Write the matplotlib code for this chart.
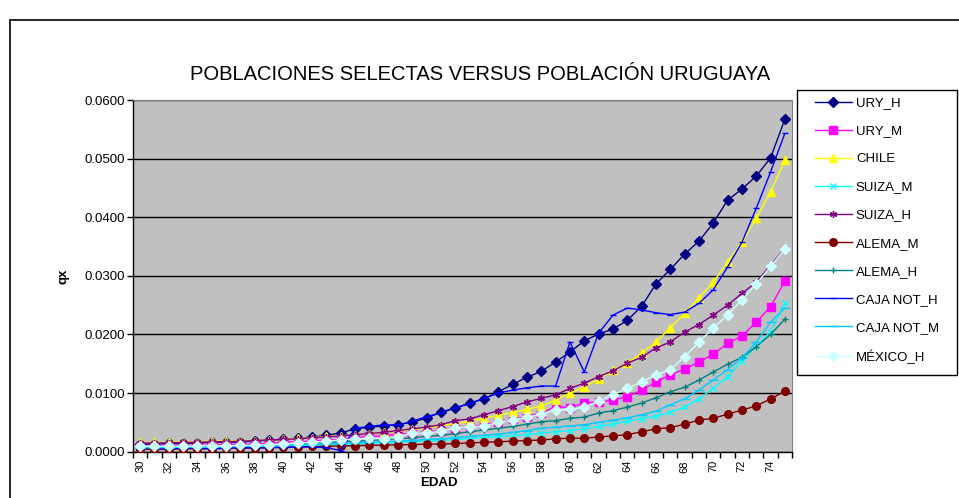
import numpy as np
import matplotlib

matplotlib.use("Agg")
import matplotlib.pyplot as plt
from matplotlib.lines import Line2D
from matplotlib.patches import Rectangle
from matplotlib.ticker import FixedLocator, FuncFormatter

plt.rcParams["font.family"] = ["Liberation Sans", "DejaVu Sans"]

# edades 30..75
edades = list(range(30, 76))

ury_h = [0.0013, 0.0013, 0.0014, 0.0014, 0.0015, 0.0016, 0.0016, 0.0017, 0.0018, 0.0020,
         0.0021, 0.0023, 0.0025, 0.0028, 0.0032, 0.0039, 0.0042, 0.0044, 0.0046, 0.0051,
         0.0057, 0.0068, 0.0074, 0.0083, 0.0090, 0.0102, 0.0115, 0.0127, 0.0137, 0.0153,
         0.0170, 0.0189, 0.0201, 0.0209, 0.0224, 0.0248, 0.0286, 0.0311, 0.0337, 0.0359,
         0.0390, 0.0429, 0.0448, 0.0470, 0.0501, 0.0567]
ury_m = [0.0009, 0.0009, 0.0010, 0.0010, 0.0011, 0.0011, 0.0012, 0.0013, 0.0013, 0.0014,
         0.0016, 0.0017, 0.0018, 0.0020, 0.0021, 0.0024, 0.0026, 0.0027, 0.0030, 0.0031,
         0.0034, 0.0036, 0.0039, 0.0042, 0.0046, 0.0050, 0.0055, 0.0060, 0.0066, 0.0077,
         0.0075, 0.0083, 0.0085, 0.0088, 0.0094, 0.0105, 0.0119, 0.0131, 0.0141, 0.0153,
         0.0166, 0.0185, 0.0197, 0.0221, 0.0247, 0.0291]
chile = [0.0016, 0.0016, 0.0016, 0.0017, 0.0017, 0.0018, 0.0018, 0.0019, 0.0019, 0.0020,
         0.0021, 0.0023, 0.0024, 0.0026, 0.0027, 0.0029, 0.0031, 0.0033, 0.0035, 0.0038,
         0.0041, 0.0044, 0.0048, 0.0052, 0.0057, 0.0062, 0.0067, 0.0072, 0.0078, 0.0088,
         0.0100, 0.0110, 0.0124, 0.0139, 0.0151, 0.0168, 0.0187, 0.0211, 0.0236, 0.0262,
         0.0289, 0.0323, 0.0357, 0.0398, 0.0443, 0.0497]
suiza_m = [0.0005, 0.0005, 0.0005, 0.0006, 0.0006, 0.0006, 0.0007, 0.0007, 0.0008, 0.0008,
           0.0009, 0.0010, 0.0010, 0.0011, 0.0012, 0.0013, 0.0014, 0.0015, 0.0016, 0.0017,
           0.0018, 0.0019, 0.0021, 0.0022, 0.0024, 0.0026, 0.0027, 0.0029, 0.0032, 0.0034,
           0.0036, 0.0039, 0.0043, 0.0047, 0.0052, 0.0056, 0.0061, 0.0067, 0.0076, 0.0090,
           0.0108, 0.0128, 0.0155, 0.0180, 0.0205, 0.0253]
suiza_h = [0.0015, 0.0015, 0.0015, 0.0016, 0.0016, 0.0017, 0.0017, 0.0018, 0.0019, 0.0020,
           0.0021, 0.0022, 0.0024, 0.0025, 0.0027, 0.0029, 0.0031, 0.0033, 0.0036, 0.0039,
           0.0042, 0.0046, 0.0053, 0.0056, 0.0063, 0.0070, 0.0077, 0.0085, 0.0091, 0.0097,
           0.0108, 0.0117, 0.0128, 0.0138, 0.0151, 0.0161, 0.0177, 0.0187, 0.0204, 0.0217,
           0.0233, 0.0250, 0.0270, 0.0289, 0.0318, 0.0347]
alema_m = [0.0004, 0.0004, 0.0004, 0.0005, 0.0005, 0.0005, 0.0006, 0.0006, 0.0007, 0.0007,
           0.0008, 0.0008, 0.0009, 0.0009, 0.0010, 0.0010, 0.0011, 0.0011, 0.0012, 0.0012,
           0.0013, 0.0013, 0.0014, 0.0015, 0.0016, 0.0017, 0.0018, 0.0019, 0.0020, 0.0022,
           0.0023, 0.0023, 0.0025, 0.0027, 0.0029, 0.0034, 0.0039, 0.0041, 0.0047, 0.0054,
           0.0057, 0.0064, 0.0071, 0.0078, 0.0090, 0.0103]
alema_h = [0.0008, 0.0008, 0.0009, 0.0009, 0.0009, 0.0010, 0.0010, 0.0011, 0.0011, 0.0012,
           0.0013, 0.0014, 0.0015, 0.0016, 0.0017, 0.0018, 0.0019, 0.0021, 0.0022, 0.0024,
           0.0026, 0.0028, 0.0031, 0.0034, 0.0037, 0.0040, 0.0043, 0.0047, 0.0051, 0.0053,
           0.0057, 0.0059, 0.0066, 0.0070, 0.0076, 0.0083, 0.0092, 0.0102, 0.0110, 0.0122,
           0.0136, 0.0149, 0.0161, 0.0179, 0.0200, 0.0226]
caja_h = [0.0006, 0.0006, 0.0005, 0.0006, 0.0006, 0.0005, 0.0006, 0.0007, 0.0006, 0.0007,
          0.0007, 0.0008, 0.0008, 0.0007, 0.0002, 0.0040, 0.0043, 0.0046, 0.0045, 0.0052,
          0.0060, 0.0066, 0.0075, 0.0082, 0.0091, 0.0100, 0.0105, 0.0109, 0.0112, 0.0112,
          0.0187, 0.0136, 0.0202, 0.0233, 0.0245, 0.0242, 0.0237, 0.0234, 0.0238, 0.0253,
          0.0276, 0.0315, 0.0357, 0.0415, 0.0477, 0.0543]
caja_m = [0.0007, 0.0007, 0.0007, 0.0008, 0.0008, 0.0008, 0.0009, 0.0009, 0.0010, 0.0010,
          0.0011, 0.0012, 0.0012, 0.0013, 0.0014, 0.0015, 0.0016, 0.0017, 0.0018, 0.0019,
          0.0021, 0.0022, 0.0024, 0.0026, 0.0028, 0.0030, 0.0033, 0.0036, 0.0040, 0.0042,
          0.0044, 0.0046, 0.0050, 0.0054, 0.0058, 0.0063, 0.0069, 0.0080, 0.0090, 0.0105,
          0.0122, 0.0140, 0.0160, 0.0187, 0.0221, 0.0245]
mexico_h = [0.0009, 0.0009, 0.0009, 0.0009, 0.0010, 0.0010, 0.0010, 0.0011, 0.0011, 0.0012,
            0.0013, 0.0015, 0.0016, 0.0018, 0.0020, 0.0022, 0.0023, 0.0022, 0.0025, 0.0032,
            0.0032, 0.0035, 0.0040, 0.0042, 0.0044, 0.0050, 0.0054, 0.0059, 0.0064, 0.0071,
            0.0072, 0.0076, 0.0086, 0.0097, 0.0108, 0.0119, 0.0131, 0.0140, 0.0162, 0.0187,
            0.0211, 0.0233, 0.0259, 0.0286, 0.0316, 0.0346]

# (nombre, datos, color, marcador, tamaño)
series = [
    ("URY_H", ury_h, "#000080", "D", 5),
    ("URY_M", ury_m, "#FF00FF", "s", 5.5),
    ("CHILE", chile, "#FFFF00", "^", 6),
    ("SUIZA_M", suiza_m, "#00FFFF", "x", 4),
    ("SUIZA_H", suiza_h, "#800080", (6, 2, 0), 5),
    ("ALEMA_M", alema_m, "#800000", "o", 5.5),
    ("ALEMA_H", alema_h, "#008080", "+", 5),
    ("CAJA NOT_H", caja_h, "#0000FF", "_", 5),
    ("CAJA NOT_M", caja_m, "#00CCFF", "_", 7),
    ("MÉXICO_H", mexico_h, "#CCFFFF", "D", 5),
]

W, H = 959, 498
fig = plt.figure(figsize=(W / 100, H / 100), dpi=100)
fig.patch.set_facecolor("white")

# marco del gráfico
fig.add_artist(Line2D([10 / W, 10 / W], [-0.1, 1 - 20 / H], color="black", lw=1.2,
                      transform=fig.transFigure))
fig.add_artist(Line2D([10 / W, 1.1], [1 - 20 / H, 1 - 20 / H], color="black", lw=1.2,
                      transform=fig.transFigure))

ax = fig.add_axes([133 / W, 46.3 / H, 659 / W, 351.7 / H])
ax.set_facecolor("#C0C0C0")
x = np.arange(len(edades))

for nombre, datos, color, marker, ms in series:
    ax.plot(x, datos, color=color, lw=1.0, marker=marker, markersize=ms,
            markerfacecolor=color, markeredgecolor=color, markeredgewidth=1.0,
            label=nombre, zorder=3)

ax.set_xlim(-0.5, len(edades) - 0.5)
ax.set_ylim(0, 0.06)
ax.set_yticks(np.arange(0, 0.0601, 0.01))
ax.yaxis.set_major_formatter(FuncFormatter(lambda v, _: f"{v:.4f}"))
ax.yaxis.grid(True, color="black", lw=1.0)
ax.set_axisbelow(True)

ax.set_xticks(x[::2])
ax.set_xticklabels([str(e) for e in edades[::2]], rotation=90, fontsize=8)
ax.xaxis.set_minor_locator(FixedLocator(np.arange(-0.5, len(edades), 1)))
ax.tick_params(axis="x", which="major", length=0, pad=6)
ax.tick_params(axis="x", which="minor", length=4, width=1, color="black")
ax.tick_params(axis="y", length=4, width=1, labelsize=9.5, pad=2)

for lado in ["top", "right"]:
    ax.spines[lado].set_color("#808080")
for lado in ["left", "bottom"]:
    ax.spines[lado].set_color("black")
    ax.spines[lado].set_linewidth(1.0)

fig.text(64 / W, 1 - 276 / H, "qx", rotation=90, ha="center", va="center",
         fontsize=9.5, fontweight="bold")
fig.text(439 / W, 1 - 483 / H, "EDAD", ha="center", va="center",
         fontsize=9.5, fontweight="bold")
fig.text(480 / W, 1 - 74 / H, "POBLACIONES SELECTAS VERSUS POBLACIÓN URUGUAYA",
         ha="center", va="center", fontsize=14.5)

# cuadro de la leyenda
fig.add_artist(Rectangle((797 / W, 1 - 375 / H), 160 / W, 285 / H, fill=True,
                         facecolor="white", edgecolor="black", lw=1.0,
                         transform=fig.transFigure))
leg = fig.legend(loc="upper left", bbox_to_anchor=(815 / W, 1 - 97 / H),
                 frameon=False, fontsize=9.5, handlelength=2.8, labelspacing=1.2,
                 borderpad=0, handletextpad=0.3, borderaxespad=0)
leg.set_zorder(5)

fig.savefig("out.png", dpi=100)
